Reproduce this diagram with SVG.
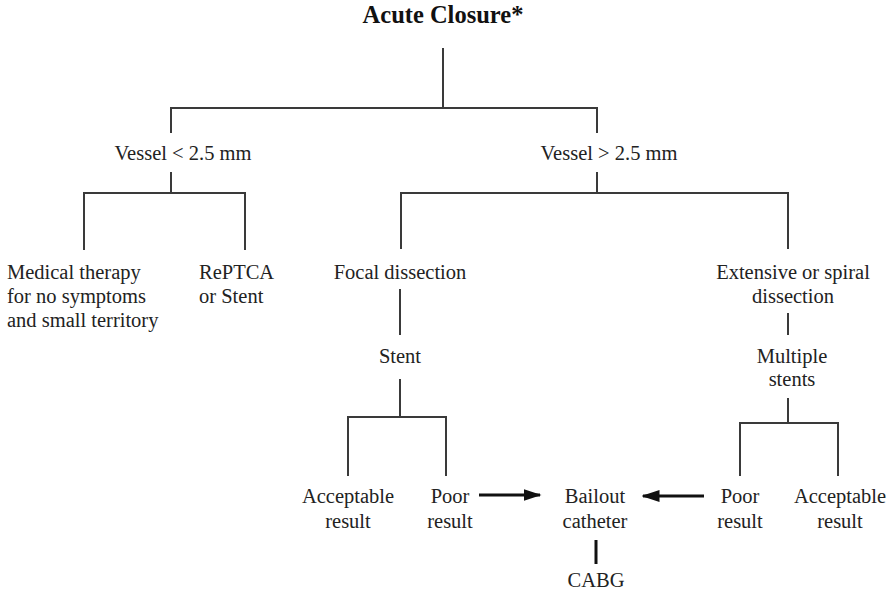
<svg xmlns="http://www.w3.org/2000/svg" width="894" height="592" viewBox="0 0 894 592">
<defs>
<style>
text{font-family:'Liberation Serif','Tinos','Times New Roman','DejaVu Serif',serif;font-size:20.5px;fill:#222}
.t{font-weight:bold;font-size:24.5px;fill:#111}
.m{text-anchor:middle}
.c line{stroke:#3a3a3a;stroke-width:2;fill:none}
.c line.a{stroke:#111;stroke-width:3}
</style>
<marker id="ah" markerWidth="6" markerHeight="4" refX="5.5" refY="2" orient="auto" markerUnits="strokeWidth">
<path d="M0,0 L6,2 L0,4 Z" fill="#111"/>
</marker>
</defs>
<rect width="894" height="592" fill="#fff"/>
<g id="connectors" class="c">
<line x1="443" y1="48" x2="443" y2="108"/>
<line x1="170" y1="108" x2="598" y2="108"/>
<line x1="171" y1="107" x2="171" y2="133"/>
<line x1="597" y1="107" x2="597" y2="133"/>
<line x1="171" y1="172" x2="171" y2="193"/>
<line x1="83" y1="193" x2="246" y2="193"/>
<line x1="84" y1="192" x2="84" y2="250"/>
<line x1="245" y1="192" x2="245" y2="250"/>
<line x1="597" y1="172" x2="597" y2="193"/>
<line x1="400" y1="193" x2="789" y2="193"/>
<line x1="401" y1="192" x2="401" y2="249"/>
<line x1="788" y1="192" x2="788" y2="249"/>
<line x1="400" y1="289" x2="400" y2="335"/>
<line x1="788" y1="313" x2="788" y2="335"/>
<line x1="400" y1="379" x2="400" y2="417"/>
<line x1="347" y1="417" x2="447" y2="417"/>
<line x1="348" y1="416" x2="348" y2="476"/>
<line x1="446" y1="416" x2="446" y2="476"/>
<line x1="788" y1="398" x2="788" y2="423"/>
<line x1="739" y1="423" x2="839" y2="423"/>
<line x1="740" y1="422" x2="740" y2="476"/>
<line x1="838" y1="422" x2="838" y2="476"/>
<line class="a" x1="479" y1="495" x2="540" y2="495" marker-end="url(#ah)"/>
<line class="a" x1="704" y1="496" x2="643" y2="496" marker-end="url(#ah)"/>
<line class="a" x1="596" y1="540" x2="596" y2="564"/>
</g>
<g font-family="Liberation Serif, serif">
<g id="n-acute"><text class="t m" x="443" y="23">Acute Closure*</text></g>
<g id="n-vlt"><text class="m" x="183" y="160">Vessel &lt; 2.5 mm</text></g>
<g id="n-vgt"><text class="m" x="609" y="160">Vessel &gt; 2.5 mm</text></g>
<g id="n-medical"><text x="7" y="279">Medical therapy</text><text x="7" y="303">for no symptoms</text><text x="7" y="327">and small territory</text></g>
<g id="n-reptca"><text x="199" y="279">RePTCA</text><text x="199" y="303">or Stent</text></g>
<g id="n-focal"><text class="m" x="400" y="279">Focal dissection</text></g>
<g id="n-extensive"><text class="m" x="793" y="279">Extensive or spiral</text><text class="m" x="793" y="303">dissection</text></g>
<g id="n-stent"><text class="m" x="400" y="363">Stent</text></g>
<g id="n-multiple"><text class="m" x="792" y="363">Multiple</text><text class="m" x="792" y="386">stents</text></g>
<g id="n-acc1"><text class="m" x="348" y="503">Acceptable</text><text class="m" x="348" y="528">result</text></g>
<g id="n-poor1"><text class="m" x="450" y="503">Poor</text><text class="m" x="450" y="528">result</text></g>
<g id="n-bailout"><text class="m" x="595" y="503">Bailout</text><text class="m" x="595" y="528">catheter</text></g>
<g id="n-poor2"><text class="m" x="740" y="503">Poor</text><text class="m" x="740" y="528">result</text></g>
<g id="n-acc2"><text class="m" x="840" y="503">Acceptable</text><text class="m" x="840" y="528">result</text></g>
<g id="n-cabg"><text class="m" x="596" y="587">CABG</text></g>
</g>
</svg>
